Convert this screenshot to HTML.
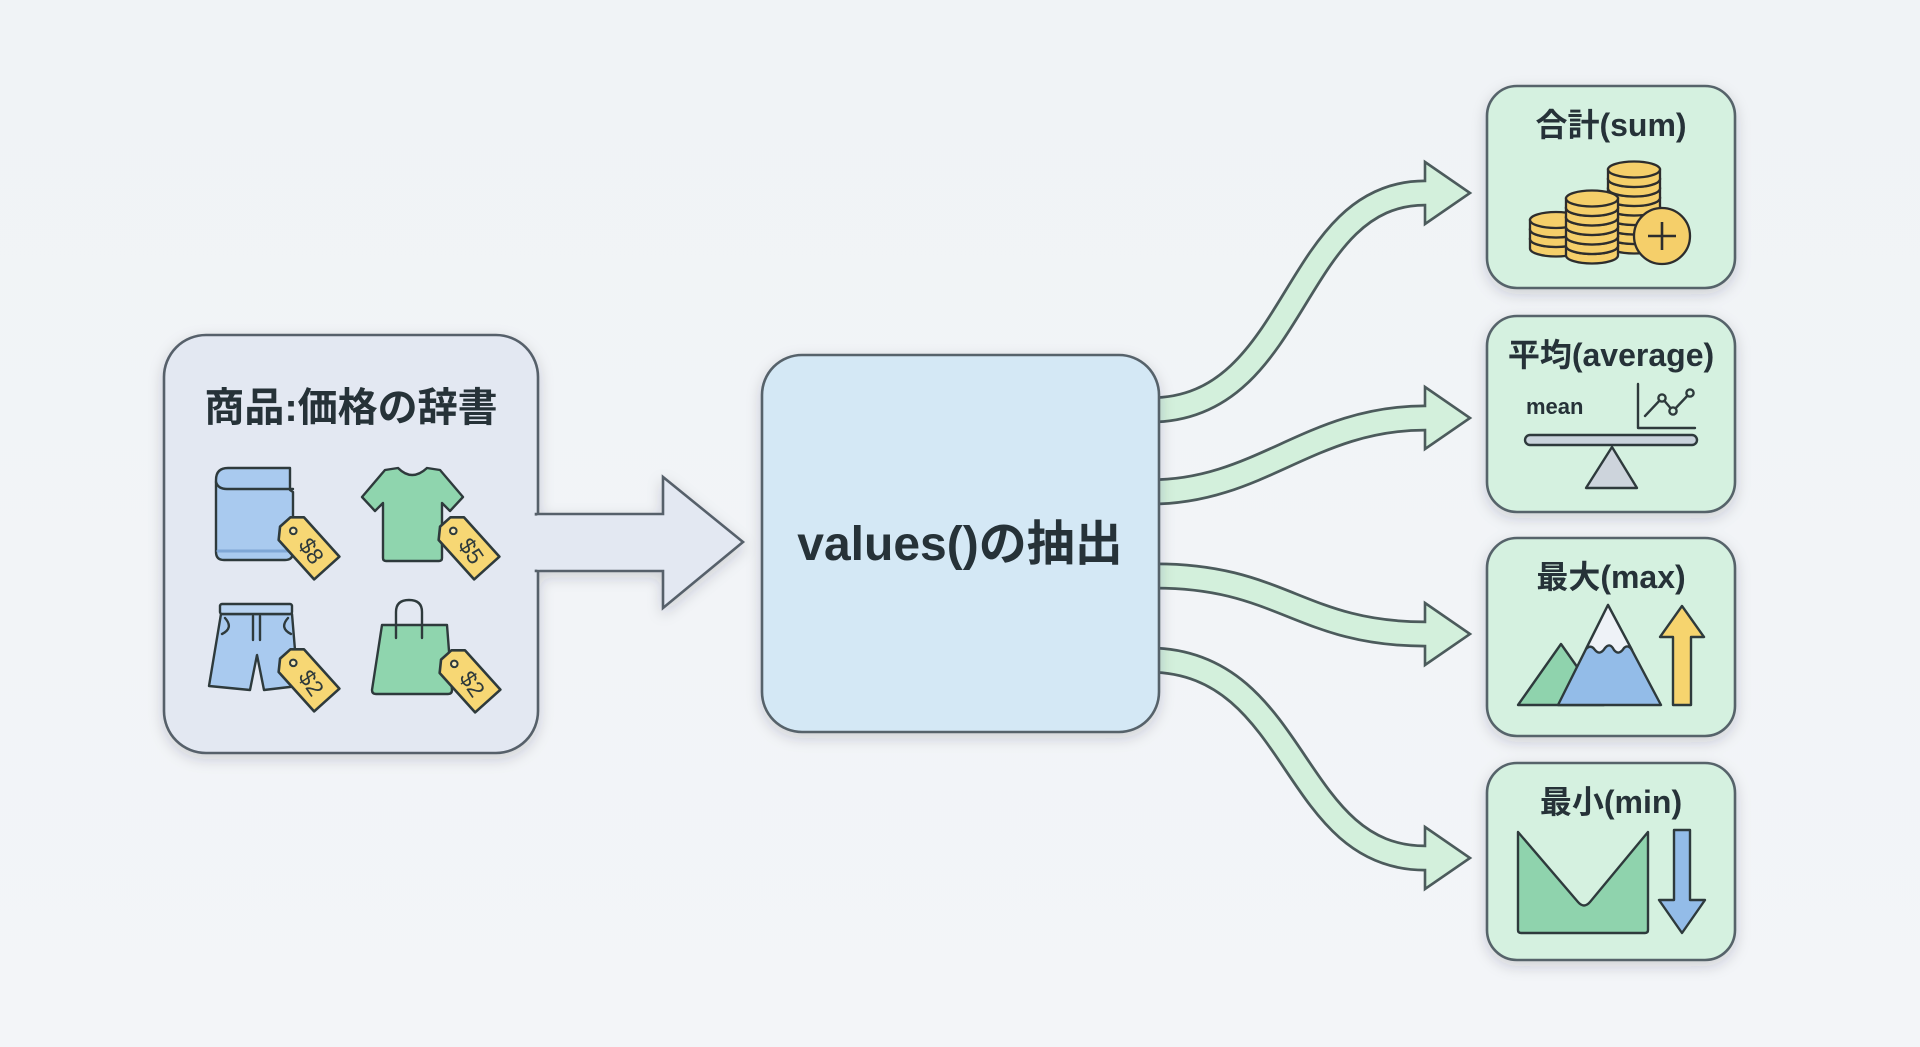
<!DOCTYPE html>
<html>
<head>
<meta charset="utf-8">
<style>
html,body{margin:0;padding:0;background:#f1f4f7;width:1920px;height:1047px;overflow:hidden;}
svg{display:block}
.t{font-family:"Liberation Sans","Noto Sans CJK JP",sans-serif;font-weight:bold;fill:#263238;}
.ic{stroke:#2e3a3c;stroke-width:2.4;stroke-linejoin:round;stroke-linecap:round;}
</style>
</head>
<body>
<svg width="1920" height="1047" viewBox="0 0 1920 1047">
<defs>
  <filter id="sh" x="-20%" y="-20%" width="140%" height="140%">
    <feDropShadow dx="0" dy="5" stdDeviation="7" flood-color="#1b2a3a" flood-opacity="0.18"/>
  </filter>
  <linearGradient id="bg" x1="0" y1="0" x2="0" y2="1">
    <stop offset="0" stop-color="#f0f3f6"/>
    <stop offset="1" stop-color="#f3f5f8"/>
  </linearGradient>
  <g id="coin">
    <path d="M-26,0 L-26,9.5 A26,8 0 0 0 26,9.5 L26,0 Z"/>
    <ellipse cx="0" cy="0" rx="26" ry="8"/>
  </g>
  <g id="tag">
    <polygon points="-31,-7 -22,-17 31,-17 31,17 -22,17 -31,7" fill="#f7d774" stroke="#2e3a3c" stroke-width="2.6" stroke-linejoin="round"/>
    <circle cx="-19" cy="0" r="3.3" fill="#fbe9b0" stroke="#2e3a3c" stroke-width="2"/>
  </g>
</defs>

<rect x="0" y="0" width="1920" height="1047" fill="url(#bg)"/>

<!-- Green curved arrows: dark outline bands -->
<g fill="none" stroke="#4c5b5c" stroke-width="27">
  <path d="M1150,410 C1300,410 1290,193 1425,193 L1432,193"/>
  <path d="M1150,492 C1260,492 1310,418 1425,418 L1432,418"/>
  <path d="M1150,576 C1280,574 1300,634 1425,634 L1432,634"/>
  <path d="M1150,660 C1300,662 1290,858 1425,858 L1432,858"/>
</g>
<!-- heads -->
<g fill="#d3f0dc" stroke="#4c5b5c" stroke-width="2.6" stroke-linejoin="miter">
  <polygon points="1425,162 1470,193 1425,224"/>
  <polygon points="1425,387 1470,418 1425,449"/>
  <polygon points="1425,603 1470,634 1425,665"/>
  <polygon points="1425,827 1470,858 1425,889"/>
</g>
<!-- inner fill bands -->
<g fill="none" stroke="#d3f0dc" stroke-width="21.5">
  <path d="M1150,410 C1300,410 1290,193 1425,193 L1432,193"/>
  <path d="M1150,492 C1260,492 1310,418 1425,418 L1432,418"/>
  <path d="M1150,576 C1280,574 1300,634 1425,634 L1432,634"/>
  <path d="M1150,660 C1300,662 1290,858 1425,858 L1432,858"/>
</g>

<!-- Left box + big arrow -->
<g filter="url(#sh)">
  <rect x="164" y="335" width="374" height="418" rx="42" fill="#e3e8f2" stroke="#56606b" stroke-width="2.6"/>
  <polygon points="536,514 663,514 663,477 743,542 663,608 663,571 536,571" fill="#e3e8f2" stroke="#56606b" stroke-width="2.6"/>
  <rect x="534" y="515.6" width="6" height="54" fill="#e3e8f2"/>
</g>
<text class="t" x="351" y="421" font-size="40" text-anchor="middle">商品:価格の辞書</text>

<!-- Book -->
<g class="ic">
  <path d="M228,468 L290,468 L290,490 L293,492 L293,552 Q293,560 285,560 L224,560 Q216,560 216,552 L216,480 Q216,468 228,468 Z" fill="#a9caef"/>
  <path d="M216,482 Q218,489 227,489 L293,489" fill="none"/>
  <path d="M218,551 L291,551" fill="none" stroke="#7fa7d6" stroke-width="3"/>
</g>
<!-- T-shirt -->
<path class="ic" d="M385,470 L398,468 Q412,482 427,468 L440,470 L463,497 L450,511 L442,503 L442,558 Q442,561 439,561 L386,561 Q383,561 383,558 L383,503 L375,511 L362,497 Z" fill="#8fd5ae"/>
<!-- Shorts -->
<g class="ic">
  <path d="M221,614 L292,614 L298,686 L264,690 L257,655 L250,690 L209,686 Z" fill="#a9caef"/>
  <rect x="220" y="604" width="72" height="10" rx="2" fill="#b9d4f2"/>
  <path d="M253,616 L253,640 M260,616 L260,640" fill="none"/>
  <path d="M225,618 Q234,628 222,634 M288,618 Q279,628 291,634" fill="none"/>
</g>
<!-- Bag -->
<g class="ic">
  <path d="M396,627 L396,612 Q396,600 409,600 Q422,600 422,612 L422,627" fill="none"/>
  <path d="M382,625 L447,625 L452,690 Q452,694 448,694 L376,694 Q372,694 372,690 Z" fill="#8fd5ae"/>
  <path d="M396,625 L396,638 M422,625 L422,638" fill="none"/>
</g>
<!-- Tags -->
<g transform="translate(306,545) rotate(48)"><use href="#tag"/><text x="8" y="0" font-size="23" text-anchor="middle" dominant-baseline="central" fill="#2e3a3c" font-family="Liberation Sans, sans-serif" transform="rotate(8 8 0)">$8</text></g>
<g transform="translate(466,545) rotate(48)"><use href="#tag"/><text x="8" y="0" font-size="23" text-anchor="middle" dominant-baseline="central" fill="#2e3a3c" font-family="Liberation Sans, sans-serif" transform="rotate(8 8 0)">$5</text></g>
<g transform="translate(306,677) rotate(48)"><use href="#tag"/><text x="8" y="0" font-size="23" text-anchor="middle" dominant-baseline="central" fill="#2e3a3c" font-family="Liberation Sans, sans-serif" transform="rotate(8 8 0)">$2</text></g>
<g transform="translate(467,678) rotate(48)"><use href="#tag"/><text x="8" y="0" font-size="23" text-anchor="middle" dominant-baseline="central" fill="#2e3a3c" font-family="Liberation Sans, sans-serif" transform="rotate(8 8 0)">$2</text></g>

<!-- Middle box -->
<rect x="762" y="355" width="397" height="377" rx="40" fill="#d4e8f5" stroke="#56626b" stroke-width="2.6" filter="url(#sh)"/>
<text class="t" x="960" y="560" font-size="48" text-anchor="middle">values()の抽出</text>

<!-- Right boxes -->
<g fill="#d5f1e0" stroke="#56646a" stroke-width="2.6" filter="url(#sh)">
  <rect x="1487" y="86" width="248" height="202" rx="30"/>
  <rect x="1487" y="316" width="248" height="196" rx="30"/>
  <rect x="1487" y="538" width="248" height="198" rx="30"/>
  <rect x="1487" y="763" width="248" height="197" rx="30"/>
</g>
<text class="t" x="1611" y="136" font-size="32" text-anchor="middle">合計(sum)</text>
<text class="t" x="1611" y="366" font-size="32" text-anchor="middle">平均(average)</text>
<text class="t" x="1611" y="588" font-size="32" text-anchor="middle">最大(max)</text>
<text class="t" x="1611" y="813" font-size="32" text-anchor="middle">最小(min)</text>

<!-- Coins -->
<g fill="#f5cf6a" stroke="#2d2d2d" stroke-width="2.3">
  <!-- left stack -->
  <use href="#coin" x="1556" y="239"/>
  <use href="#coin" x="1556" y="229.5"/>
  <use href="#coin" x="1556" y="220"/>
  <!-- right stack -->
  <use href="#coin" x="1634" y="236"/>
  <use href="#coin" x="1634" y="226.5"/>
  <use href="#coin" x="1634" y="217"/>
  <use href="#coin" x="1634" y="207.5"/>
  <use href="#coin" x="1634" y="198"/>
  <use href="#coin" x="1634" y="188.5"/>
  <use href="#coin" x="1634" y="179"/>
  <use href="#coin" x="1634" y="169.5"/>
  <!-- middle stack -->
  <use href="#coin" x="1592" y="246"/>
  <use href="#coin" x="1592" y="236.5"/>
  <use href="#coin" x="1592" y="227"/>
  <use href="#coin" x="1592" y="217.5"/>
  <use href="#coin" x="1592" y="208"/>
  <use href="#coin" x="1592" y="198.5"/>
  <circle cx="1662" cy="236" r="28"/>
  <path d="M1648,236 L1676,236 M1662,222 L1662,250" fill="none" stroke-width="2.6"/>
</g>

<!-- Average icon -->
<text class="t" x="1526" y="414" font-size="22" fill="#333">mean</text>
<g class="ic" fill="none">
  <path d="M1638,384 L1638,428 L1695,428"/>
  <polyline points="1645,416 1662,398 1673,411 1690,393"/>
  <circle cx="1662" cy="398" r="3.6" fill="#d5f1e0"/>
  <circle cx="1673" cy="411" r="3.6" fill="#d5f1e0"/>
  <circle cx="1690" cy="393" r="3.6" fill="#d5f1e0"/>
  <rect x="1525" y="435" width="172" height="10" rx="5" fill="#c9d3dc"/>
  <polygon points="1612,447 1586,488 1637,488" fill="#cdd4dc"/>
</g>

<!-- Max icon -->
<g class="ic">
  <polygon points="1518,705 1561,644 1604,705" fill="#8fd3ad"/>
  <polygon points="1558,705 1608,605 1661,705" fill="#93bce8"/>
  <path d="M1608,605 L1586,649 Q1591,644 1595,650 Q1600,656 1605,648 Q1610,642 1614,650 Q1619,656 1624,648 Q1628,644 1632,650 Z" fill="#eef2f7"/>
  <polygon points="1673,705 1673,637 1660,637 1682,606 1704,637 1691,637 1691,705" fill="#f6d46e"/>
</g>

<!-- Min icon -->
<g class="ic">
  <path d="M1518,832 L1578,902 Q1584,909 1590,902 L1648,832 L1648,930 Q1648,933 1645,933 L1521,933 Q1518,933 1518,930 Z" fill="#8fd3ad"/>
  <polygon points="1674,830 1690,830 1690,900 1705,900 1682,933 1659,900 1674,900" fill="#93bce8"/>
</g>
</svg>
</body>
</html>
